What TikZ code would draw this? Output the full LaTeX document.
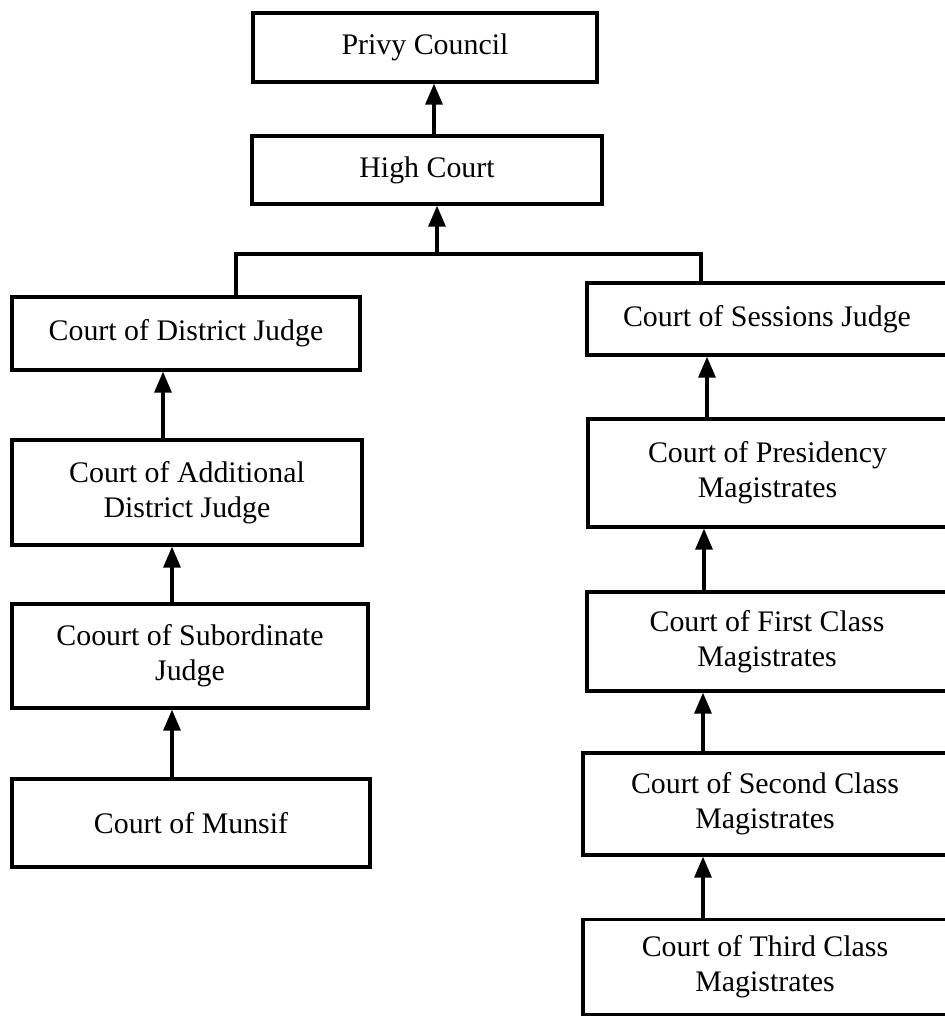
\documentclass[tikz,border=0pt]{standalone}
\usepackage{fontspec}
\setmainfont{Liberation Serif}
\usetikzlibrary{arrows.meta}

\begin{document}
\begin{tikzpicture}[x=0.02cm, y=-0.02cm,
    court/.style={draw, line width=1.9pt, rectangle, inner sep=0pt, align=center,
                  font=\fontsize{17}{20}\selectfont},
    link/.style={line width=1.9pt},
    uparrow/.style={line width=1.9pt, -{Triangle[length=0.42cm, width=0.34cm]}}]

    \useasboundingbox (0,0) rectangle (944,1018);

    % top of the hierarchy
    \node[court, minimum width=6.88cm, minimum height=1.38cm] (privy) at (425,47.5) {Privy Council};
    \node[court, minimum width=7.0cm, minimum height=1.36cm] (high) at (427,170) {High Court};

    % civil side
    \node[court, minimum width=6.96cm, minimum height=1.46cm] (district) at (186,333.5) {Court of District Judge};
    \node[court, minimum width=7.0cm, minimum height=2.1cm] (additional) at (187,492.5) {Court of Additional\\District Judge};
    \node[court, minimum width=7.12cm, minimum height=2.08cm] (subordinate) at (190,656) {Coourt of Subordinate\\Judge};
    \node[court, minimum width=7.16cm, minimum height=1.76cm] (munsif) at (191,823) {Court of Munsif};

    % criminal side
    \node[court, minimum width=7.2cm, minimum height=1.44cm] (sessions) at (767,319) {Court of Sessions Judge};
    \node[court, minimum width=7.18cm, minimum height=2.16cm] (presidency) at (767.5,473) {Court of Presidency\\Magistrates};
    \node[court, minimum width=7.2cm, minimum height=1.98cm] (first) at (767,641.5) {Court of First Class\\Magistrates};
    \node[court, minimum width=7.28cm, minimum height=2.04cm] (second) at (765,804) {Court of Second Class\\Magistrates};
    \node[court, minimum width=7.28cm, minimum height=1.9cm] (third) at (765,967) {Court of Third Class\\Magistrates};

    % branching line under the High Court
    \coordinate (dl) at (236,254);
    \coordinate (sl) at (701,254);
    \coordinate (jn) at (437,254);
    \draw[link] (dl |- district.north) -- (dl) -- (sl) -- (sl |- sessions.north);
    \draw[uparrow] (jn) -- (jn |- high.south);
    \draw[uparrow] (434,0 |- high.north) -- (434,0 |- privy.south);

    % appeals, civil
    \draw[uparrow] (163,0 |- additional.north) -- (163,0 |- district.south);
    \draw[uparrow] (172,0 |- subordinate.north) -- (172,0 |- additional.south);
    \draw[uparrow] (172,0 |- munsif.north) -- (172,0 |- subordinate.south);

    % appeals, criminal
    \draw[uparrow] (707,0 |- presidency.north) -- (707,0 |- sessions.south);
    \draw[uparrow] (704,0 |- first.north) -- (704,0 |- presidency.south);
    \draw[uparrow] (703,0 |- second.north) -- (703,0 |- first.south);
    \draw[uparrow] (703,0 |- third.north) -- (703,0 |- second.south);

\end{tikzpicture}
\end{document}
